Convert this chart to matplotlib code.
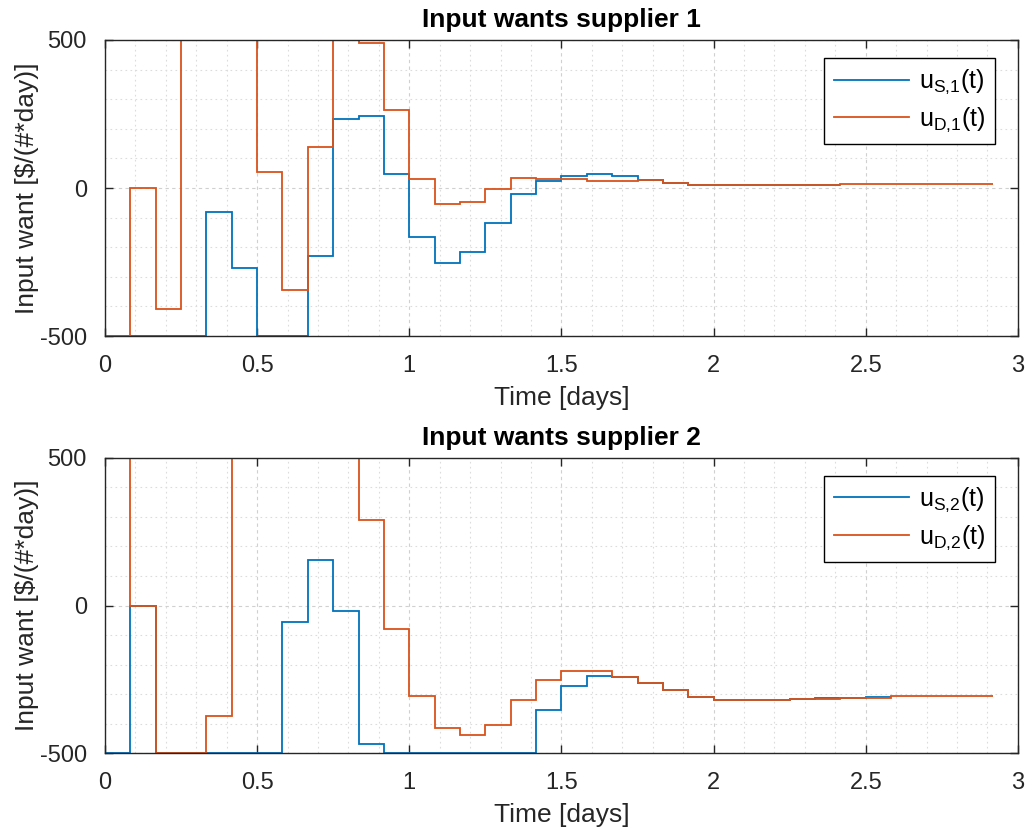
import numpy as np
import matplotlib
matplotlib.use("Agg")
import matplotlib.pyplot as plt
from matplotlib.ticker import MultipleLocator

plt.rcParams['font.family'] = ['Liberation Sans', 'DejaVu Sans']
plt.rcParams['mathtext.fontset'] = 'custom'
plt.rcParams['mathtext.rm'] = 'Liberation Sans'

# sample period: 2 hours = 1/12 day
dt = 1 / 12

# supplier 1 (values per 2-hour interval)
u_s1 = [-500, -500, -500, -500, -80, -271, -500, -500, -229, 232,
        243, 46, -164, -254, -215, -117, -20, 25, 41, 47,
        41, 27, 18, 10, 10, 10, 10, 10, 10]
u_d1 = [-500, 0, -410, 500, 500, 500, 55, -345, 137, 500,
        490, 262, 29, -55, -47, -5, 35, 29, 29, 23,
        23, 26, 18, 10, 10, 10, 10, 10, 10, 12,
        12, 12, 12, 12, 12]

# supplier 2
u_s2 = [-500, 0, -500, -500, -500, -500, -500, -57, 155, -17,
        -470, -500, -500, -500, -500, -500, -500, -353, -273, -240,
        -241, -263, -286, -311, -322, -322, -322, -318, -312, -312,
        -310]
u_d2 = [500, 0, -500, -500, -375, 500, 500, 500, 500, 500,
        291, -81, -308, -415, -438, -405, -322, -254, -223, -223,
        -241, -263, -286, -311, -322, -322, -322, -318, -316, -313,
        -313, -308, -308, -308, -308]

blue = '#0072BD'
orange = '#D95319'

fig = plt.figure(figsize=(10.25, 8.35), dpi=100)
ax1 = fig.add_axes([0.1024, 0.5976, 0.8907, 0.3545])
ax2 = fig.add_axes([0.1024, 0.0982, 0.8907, 0.3533])

panels = [
    (ax1, u_s1, u_d1, 'Input wants supplier 1', ['S', '1', 'D', '1']),
    (ax2, u_s2, u_d2, 'Input wants supplier 2', ['S', '2', 'D', '2']),
]

for ax, us, ud, title, subs in panels:
    t_s = np.arange(len(us) + 1) * dt
    t_d = np.arange(len(ud) + 1) * dt
    ax.stairs(us, t_s, baseline=None, color=blue, lw=1.3,
              label=r'u$_{\mathrm{%s{,}%s}}$(t)' % (subs[0], subs[1]))
    ax.stairs(ud, t_d, baseline=None, color=orange, lw=1.3,
              label=r'u$_{\mathrm{%s{,}%s}}$(t)' % (subs[2], subs[3]))

    ax.set_xlim(0, 3)
    ax.set_ylim(-500, 500)
    ax.xaxis.set_minor_locator(MultipleLocator(0.1))
    ax.yaxis.set_minor_locator(MultipleLocator(100))
    ax.set_xticks([0, 0.5, 1, 1.5, 2, 2.5, 3])
    ax.set_xticklabels(['0', '0.5', '1', '1.5', '2', '2.5', '3'])
    ax.set_yticks([-500, 0, 500])
    ax.set_yticklabels(['-500', '0', '500'])
    ax.grid(which='major', color='#d0d0d0', ls=(0, (3, 3)), lw=0.8)
    ax.grid(which='minor', color='#dcdcdc', ls=(0, (1.5, 3)), lw=0.8)
    ax.set_axisbelow(True)
    ax.tick_params(which='major', direction='in', length=6, width=1,
                   top=True, right=True, labelsize=17, color='#262626',
                   labelcolor='#262626')
    ax.tick_params(axis='x', which='major', pad=14)
    ax.tick_params(axis='y', which='major', pad=13)
    ax.tick_params(which='minor', length=0)
    for s in ax.spines.values():
        s.set_color('#262626')
        s.set_linewidth(1)

    ax.set_title(title, fontsize=19, fontweight='bold', pad=9, color='black')
    ax.set_xlabel('Time [days]', fontsize=19, color='#262626')
    ax.set_ylabel('Input want [$/(#*day)]', fontsize=19, color='#262626')
    ax.xaxis.set_label_coords(0.5, -0.17)
    ax.yaxis.set_label_coords(-0.072, 0.5)

    leg = ax.legend(loc='upper right', bbox_to_anchor=(0.975, 0.939),
                    borderaxespad=0, fontsize=18, frameon=True,
                    fancybox=False, edgecolor='black', framealpha=1,
                    handlelength=3.0, borderpad=0.4, labelspacing=0.35,
                    handletextpad=0.4)
    leg.get_frame().set_linewidth(1)

fig.savefig('out.png', dpi=100)
